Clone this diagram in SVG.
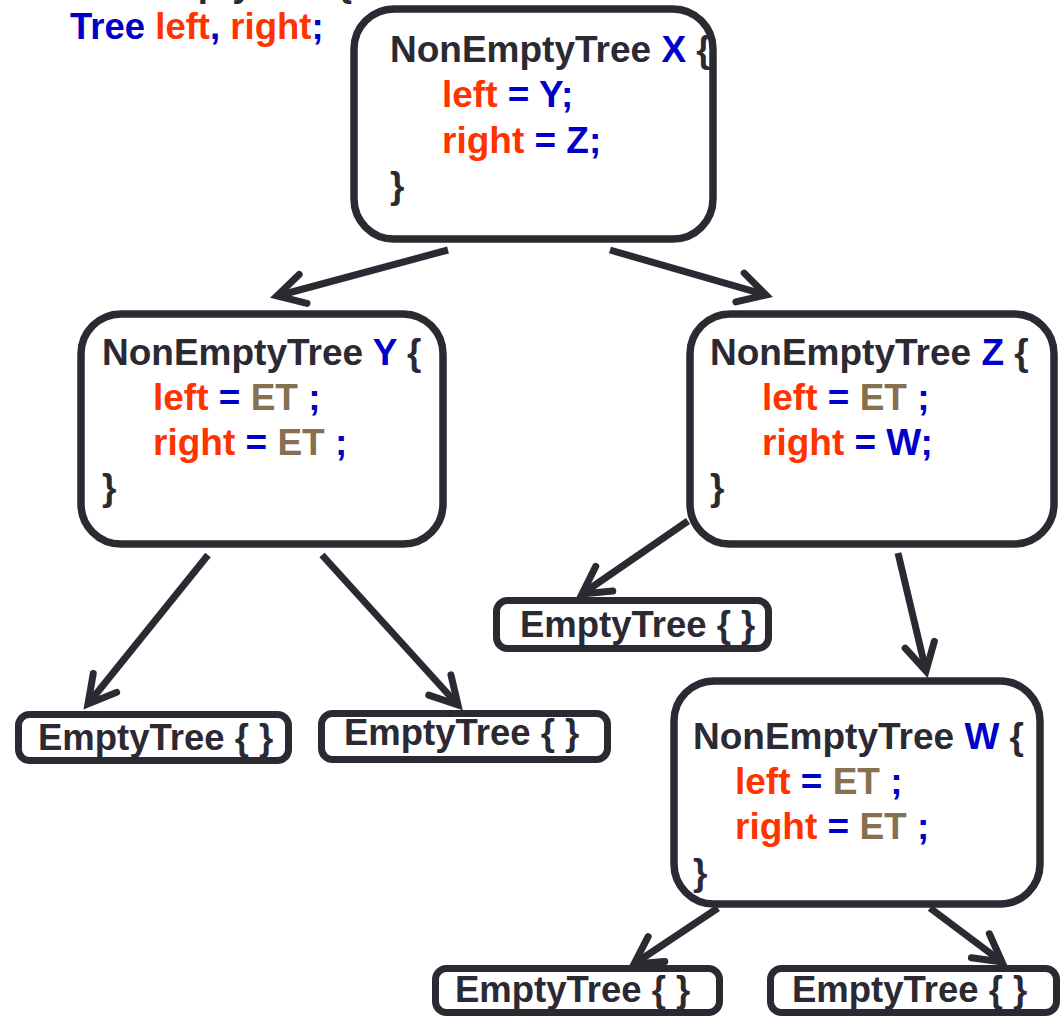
<svg xmlns="http://www.w3.org/2000/svg" width="1063" height="1017" viewBox="0 0 1063 1017">
<style>
text{font-family:"Liberation Sans",Arial,sans-serif;font-weight:bold;font-size:37px;fill:#2b2a33}
.k{fill:#0000c8}
.r{fill:#ff3300}
.b{fill:#86704f}
.node{fill:#fff;stroke:#2b2a33;stroke-width:7.5}
.leaf{fill:#fff;stroke:#2b2a33;stroke-width:7}
.edge{fill:none;stroke:#2b2a33;stroke-width:7;marker-end:url(#arr)}
</style>
<defs>
<marker id="arr" markerUnits="userSpaceOnUse" viewBox="-40 -30 60 60" markerWidth="60" markerHeight="60" refX="0" refY="0" orient="auto" overflow="visible">
<path d="M-27,-15 L0,0 L-27,15" fill="none" stroke="#2b2a33" stroke-width="7" stroke-linecap="round" stroke-linejoin="miter"/>
</marker>
</defs>
<rect width="1063" height="1017" fill="#fff"/>
<g id="code">
<text x="70" y="-4" style="font-size:36.5px">NonEmptyTree {</text>
<text x="70" y="39" style="font-size:36.5px"><tspan class="k">Tree</tspan> <tspan class="r">left</tspan><tspan class="k">,</tspan> <tspan class="r">right</tspan><tspan class="k">;</tspan></text>
</g>
<g id="connectors">
<line class="edge" x1="448" y1="250" x2="277" y2="296"/>
<line class="edge" x1="610" y1="250" x2="766" y2="295"/>
<line class="edge" x1="208" y1="555" x2="88" y2="704"/>
<line class="edge" x1="322" y1="555" x2="458" y2="705"/>
<line class="edge" x1="688" y1="521" x2="582" y2="594"/>
<line class="edge" x1="898" y1="553" x2="926" y2="671"/>
<line class="edge" x1="718" y1="908" x2="634" y2="964"/>
<line class="edge" x1="930" y1="908" x2="1002" y2="962"/>
</g>
<g id="nodeX">
<rect class="node" x="354" y="9" width="359" height="230" rx="40"/>
<text x="390" y="62">NonEmptyTree <tspan class="k">X</tspan> {</text>
<text x="442" y="107"><tspan class="r">left</tspan><tspan class="k"> = Y;</tspan></text>
<text x="442" y="153"><tspan class="r">right</tspan><tspan class="k"> = Z;</tspan></text>
<text x="390" y="198">}</text>
</g>
<g id="nodeY">
<rect class="node" x="81" y="314" width="362" height="230" rx="40"/>
<text x="102" y="365">NonEmptyTree <tspan class="k">Y</tspan> {</text>
<text x="153" y="410"><tspan class="r">left</tspan><tspan class="k"> = </tspan><tspan class="b">ET</tspan><tspan class="k"> ;</tspan></text>
<text x="153" y="455"><tspan class="r">right</tspan><tspan class="k"> = </tspan><tspan class="b">ET</tspan><tspan class="k"> ;</tspan></text>
<text x="102" y="500">}</text>
</g>
<g id="nodeZ">
<rect class="node" x="690" y="314" width="364" height="230" rx="40"/>
<text x="710" y="365">NonEmptyTree <tspan class="k">Z</tspan> {</text>
<text x="762" y="410"><tspan class="r">left</tspan><tspan class="k"> = </tspan><tspan class="b">ET</tspan><tspan class="k"> ;</tspan></text>
<text x="762" y="455"><tspan class="r">right</tspan><tspan class="k"> = W;</tspan></text>
<text x="710" y="500">}</text>
</g>
<g id="nodeW">
<rect class="node" x="674" y="681" width="366" height="223" rx="40"/>
<text x="693" y="749">NonEmptyTree <tspan class="k">W</tspan> {</text>
<text x="735" y="794"><tspan class="r">left</tspan><tspan class="k"> = </tspan><tspan class="b">ET</tspan><tspan class="k"> ;</tspan></text>
<text x="735" y="839"><tspan class="r">right</tspan><tspan class="k"> = </tspan><tspan class="b">ET</tspan><tspan class="k"> ;</tspan></text>
<text x="693" y="885">}</text>
</g>
<g id="leafY1">
<rect class="leaf" x="18.5" y="714.5" width="270" height="46" rx="11"/>
<text x="38" y="750" style="font-size:36.5px">EmptyTree { }</text>
</g>
<g id="leafY2">
<rect class="leaf" x="321.5" y="713.5" width="286" height="46" rx="11"/>
<text x="344" y="745" style="font-size:36.5px">EmptyTree { }</text>
</g>
<g id="leafZ1">
<rect class="leaf" x="496.5" y="600.5" width="272" height="48" rx="11"/>
<text x="520" y="637" style="font-size:36.5px">EmptyTree { }</text>
</g>
<g id="leafW1">
<rect class="leaf" x="435.5" y="968.5" width="284" height="44" rx="11"/>
<text x="455" y="1002" style="font-size:36.5px">EmptyTree { }</text>
</g>
<g id="leafW2">
<rect class="leaf" x="770.5" y="968.5" width="286" height="44" rx="11"/>
<text x="792" y="1002" style="font-size:36.5px">EmptyTree { }</text>
</g>
</svg>
